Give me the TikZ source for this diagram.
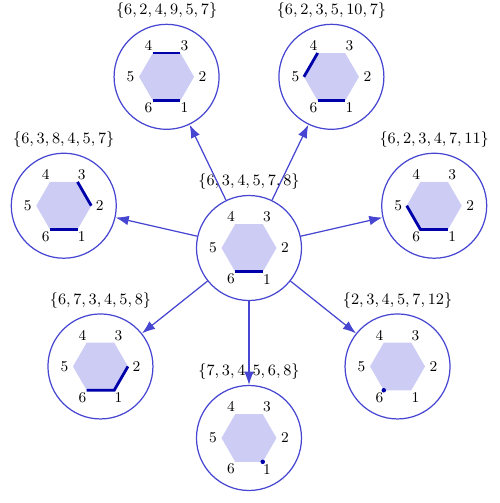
\documentclass[tikz,border=0pt]{standalone}
\usetikzlibrary{arrows.meta, calc}
\definecolor{ringLine}{HTML}{4646D2}
\definecolor{hexFill}{HTML}{CCCCF5}
\definecolor{bondLine}{HTML}{0000AA}

\begin{document}
\begin{tikzpicture}[
  state/.style  ={circle, draw=ringLine, line width=0.7pt, minimum size=2.1cm, inner sep=0pt},
  setlbl/.style ={font=\fontsize{9}{11}\selectfont, inner sep=1pt},
  vlbl/.style   ={font=\fontsize{8.5}{10}\selectfont, inner sep=0pt},
  bond/.style   ={draw=bondLine, line width=1.6pt},
  flow/.style   ={-{Latex[length=7.5pt, width=5.5pt]}, draw=ringLine, line width=0.7pt},
  pics/hexa/.style={code={
    \fill[hexFill] (0:0.55) -- (60:0.55) -- (120:0.55) -- (180:0.55)
                   -- (240:0.55) -- (300:0.55) -- cycle;
    \foreach \i/\a in {1/300, 2/0, 3/60, 4/120, 5/180, 6/240} {
      \coordinate (-v\i) at (\a:0.55);
      \node[vlbl] at (\a:0.72) {\i};
    }
  }},
]
\useasboundingbox (-4.98,4.96) rectangle (5.02,-5.10);

% ----- States -----
\node[state] (C)  at (0,0)         {};
\node[state] (B)  at (270:3.8)     {};
\node[state] (BR) at (321.43:3.8)  {};
\node[state] (R)  at (12.86:3.8)   {};
\node[state] (TR) at (64.29:3.8)   {};
\node[state] (TL) at (115.71:3.8)  {};
\node[state] (L)  at (167.14:3.8)  {};
\node[state] (BL) at (218.57:3.8)  {};

% ----- Hexagons -----
\pic (hC)  at (C)  {hexa};
\pic (hB)  at (B)  {hexa};
\pic (hBR) at (BR) {hexa};
\pic (hR)  at (R)  {hexa};
\pic (hTR) at (TR) {hexa};
\pic (hTL) at (TL) {hexa};
\pic (hL)  at (L)  {hexa};
\pic (hBL) at (BL) {hexa};

% ----- Marked sides -----
\draw[bond] (hC-v6) -- (hC-v1);
\draw[bond] (hTL-v4) -- (hTL-v3);
\draw[bond] (hTL-v6) -- (hTL-v1);
\draw[bond] (hTR-v4) -- (hTR-v5);
\draw[bond] (hTR-v6) -- (hTR-v1);
\draw[bond] (hL-v3) -- (hL-v2);
\draw[bond] (hL-v6) -- (hL-v1);
\draw[bond] (hR-v5) -- (hR-v6) -- (hR-v1);
\draw[bond] (hBL-v2) -- (hBL-v1) -- (hBL-v6);
\fill[bondLine] (hBR-v6) circle (0.045);
\fill[bondLine] (hB-v1) circle (0.045);

% ----- Set labels -----
\node[setlbl] (lC)  at ($(C)+(0,1.32)$)  {$\{6,3,4,5,7,8\}$};
\node[setlbl] (lB)  at ($(B)+(0,1.32)$)  {$\{7,3,4,5,6,8\}$};
\node[setlbl] (lBR) at ($(BR)+(0,1.32)$) {$\{2,3,4,5,7,12\}$};
\node[setlbl] (lR)  at ($(R)+(0,1.32)$)  {$\{6,2,3,4,7,11\}$};
\node[setlbl] (lTR) at ($(TR)+(0,1.32)$) {$\{6,2,3,5,10,7\}$};
\node[setlbl] (lTL) at ($(TL)+(0,1.32)$) {$\{6,2,4,9,5,7\}$};
\node[setlbl] (lL)  at ($(L)+(0,1.32)$)  {$\{6,3,8,4,5,7\}$};
\node[setlbl] (lBL) at ($(BL)+(0,1.32)$) {$\{6,7,3,4,5,8\}$};

% ----- Arrows -----
\draw[flow] (C) -- (B);
\draw[flow] (C) -- (BR);
\draw[flow] (C) -- (R);
\draw[flow] (C) -- (TR);
\draw[flow] (C) -- (TL);
\draw[flow] (C) -- (L);
\draw[flow] (C) -- (BL);

\end{tikzpicture}
\end{document}
